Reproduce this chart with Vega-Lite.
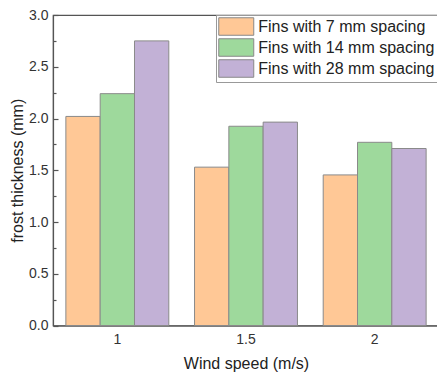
{
  "$schema": "https://vega.github.io/schema/vega-lite/v6.json",
  "width": 386,
  "height": 310.5,
  "autosize": "none",
  "padding": {"left": 53, "top": 15, "right": 0, "bottom": 46},
  "config": {
    "font": "Liberation Sans",
    "view": {"stroke": "#555", "strokeWidth": 1.2}
  },
  "data": {
    "values": [
      {"speed": "1", "series": "Fins with 7 mm spacing", "value": 2.02},
      {"speed": "1", "series": "Fins with 14 mm spacing", "value": 2.24},
      {"speed": "1", "series": "Fins with 28 mm spacing", "value": 2.75},
      {"speed": "1.5", "series": "Fins with 7 mm spacing", "value": 1.53},
      {"speed": "1.5", "series": "Fins with 14 mm spacing", "value": 1.925},
      {"speed": "1.5", "series": "Fins with 28 mm spacing", "value": 1.965},
      {"speed": "2", "series": "Fins with 7 mm spacing", "value": 1.455},
      {"speed": "2", "series": "Fins with 14 mm spacing", "value": 1.77},
      {"speed": "2", "series": "Fins with 28 mm spacing", "value": 1.71}
    ]
  },
  "mark": {"type": "bar", "stroke": "#8a8a8a", "strokeWidth": 1},
  "encoding": {
    "x": {
      "field": "speed",
      "type": "nominal",
      "sort": ["1", "1.5", "2"],
      "scale": {"paddingInner": 0.2, "paddingOuter": 0.1},
      "axis": {
        "title": "Wind speed (m/s)",
        "labelAngle": 0,
        "labelFontSize": 14,
        "labelColor": "#333",
        "labelPadding": 11.5,
        "tickSize": -5,
        "tickColor": "#555",
        "tickWidth": 1.2,
        "domainColor": "#555",
        "domainWidth": 1.2,
        "titleFontSize": 16,
        "titleFontWeight": "normal",
        "titleColor": "#222",
        "titlePadding": 9.5
      }
    },
    "xOffset": {
      "field": "series",
      "sort": ["Fins with 7 mm spacing", "Fins with 14 mm spacing", "Fins with 28 mm spacing"],
      "scale": {"paddingInner": 0, "paddingOuter": 0}
    },
    "y": {
      "field": "value",
      "type": "quantitative",
      "scale": {"domain": [0, 3], "nice": false},
      "axis": {
        "title": "frost thickness (mm)",
        "values": [0, 0.25, 0.5, 0.75, 1, 1.25, 1.5, 1.75, 2, 2.25, 2.5, 2.75, 3],
        "labelExpr": "datum.value % 0.5 === 0 ? format(datum.value, '.1f') : ''",
        "tickSize": {"condition": {"test": "datum.value % 0.5 === 0", "value": -5}, "value": -3},
        "tickColor": "#555",
        "tickWidth": 1.2,
        "domainColor": "#555",
        "domainWidth": 1.2,
        "grid": false,
        "labelFontSize": 14,
        "labelColor": "#333",
        "labelPadding": 10,
        "titleFontSize": 16,
        "titleFontWeight": "normal",
        "titleColor": "#222",
        "titlePadding": 3
      }
    },
    "color": {
      "field": "series",
      "type": "nominal",
      "scale": {
        "domain": ["Fins with 7 mm spacing", "Fins with 14 mm spacing", "Fins with 28 mm spacing"],
        "range": ["#FFC896", "#9ED99C", "#C2B1D6"]
      },
      "legend": {
        "title": null,
        "orient": "none",
        "legendX": 163,
        "legendY": 0,
        "padding": 2,
        "rowPadding": -6,
        "symbolType": "M-2,-1H2V1H-2Z",
        "symbolSize": 306.25,
        "symbolOffset": 8.75,
        "symbolStrokeColor": "#888",
        "symbolStrokeWidth": 1,
        "symbolOpacity": 1,
        "labelFontSize": 16,
        "labelColor": "#222",
        "labelOffset": 12.5,
        "labelLimit": 300,
        "strokeColor": "#999",
        "fillColor": "white"
      }
    }
  }
}
